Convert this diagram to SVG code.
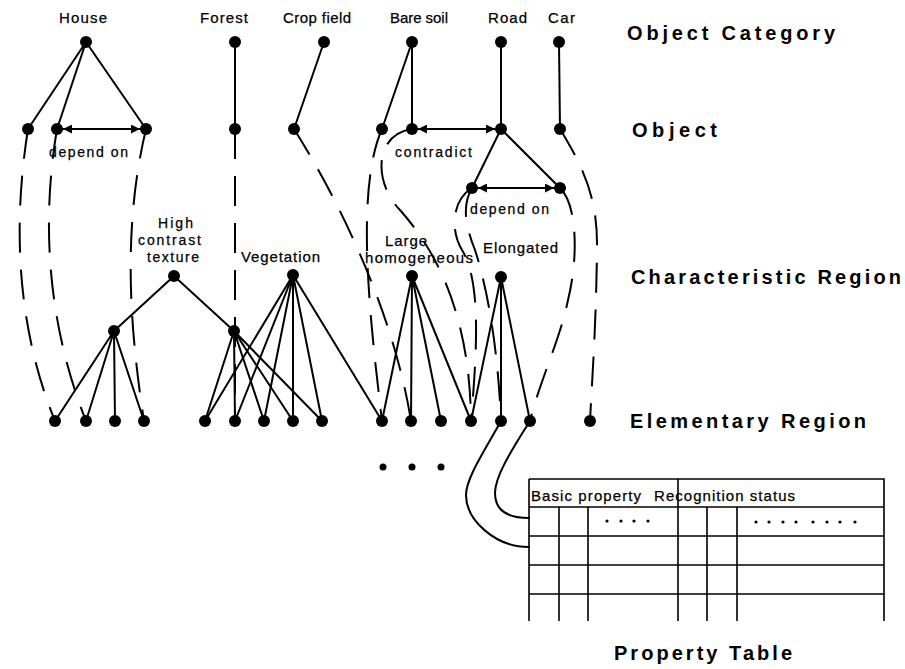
<svg xmlns="http://www.w3.org/2000/svg" width="905" height="669" viewBox="0 0 905 669">
  <style>
    .edge { stroke: #000; stroke-width: 2; fill: none; stroke-linecap: round; }
    .dash { stroke: #000; stroke-width: 2; fill: none; stroke-dasharray: 30 17; }
    .grid { stroke: #000; stroke-width: 1.6; fill: none; }
    .dot { fill: #000; }
    .lbl { font-family: "Liberation Sans", Arial, sans-serif; font-size: 15px; fill: #000; stroke: #000; stroke-width: 0.25; }
    .small { font-family: "Liberation Sans", Arial, sans-serif; font-size: 14px; fill: #000; stroke: #000; stroke-width: 0.25; }
    .level { font-family: "Liberation Sans", Arial, sans-serif; font-size: 20px; font-weight: bold; fill: #000; }
  </style>
  <defs>
    <marker id="arrow" viewBox="0 0 10 10" refX="10" refY="5" markerWidth="9" markerHeight="9" markerUnits="userSpaceOnUse" orient="auto-start-reverse">
      <path d="M0,0 L10,5 L0,10 z" fill="#000"/>
    </marker>
  </defs>
  <rect width="905" height="669" fill="#fff"/>

  <!-- connectors -->
  <g id="connectors">
    <!-- category to object -->
    <path class="edge" d="M86,42 L28,129 M86,42 L57,129 M86,42 L146,129"/>
    <path class="edge" d="M235,42 L235,129"/>
    <path class="edge" d="M324,42 L294,129"/>
    <path class="edge" d="M412,42 L382,129 M412,42 L412,129"/>
    <path class="edge" d="M501,42 L501,129"/>
    <path class="edge" d="M559,42 L560,129"/>
    <!-- object to sub-object -->
    <path class="edge" d="M501,129 L472,188 M501,129 L560,188"/>
    <!-- relations between objects -->
    <line class="edge" x1="63" y1="129" x2="140" y2="129" marker-start="url(#arrow)" marker-end="url(#arrow)"/>
    <line class="edge" x1="418" y1="129" x2="495" y2="129" marker-start="url(#arrow)" marker-end="url(#arrow)"/>
    <line class="edge" x1="478" y1="188" x2="554" y2="188" marker-start="url(#arrow)" marker-end="url(#arrow)"/>
    <!-- characteristic region to elementary region -->
    <path class="edge" d="M174,276 L114,331 M174,276 L234,331"/>
    <path class="edge" d="M114,331 L55,421 M114,331 L86,421 M114,331 L115,421 M114,331 L144,421"/>
    <path class="edge" d="M234,331 L205,421 M234,331 L235,421 M234,331 L264,421 M234,331 L293,421 M234,331 L322,421"/>
    <path class="edge" d="M293,275 L205,421 M293,275 L235,421 M293,275 L264,421 M293,275 L293,421 M293,275 L322,421 M293,275 L382,421"/>
    <path class="edge" d="M412,276 L382,421 M412,276 L411,421 M412,276 L441,421 M412,276 L471,421"/>
    <path class="edge" d="M501,277 L471,421 M501,277 L501,421 M501,277 L530,421"/>
    <!-- object to elementary region -->
    <path class="dash" d="M28,129 C12,230 18,330 55,421"/>
    <path class="dash" d="M57,129 C40,230 50,330 86,421"/>
    <path class="dash" d="M146,129 C122,230 130,330 144,421"/>
    <path class="dash" d="M235,129 L235,421"/>
    <path class="dash" d="M294,129 C345,210 395,320 411,421"/>
    <path class="dash" d="M382,129 C355,190 370,320 382,421"/>
    <path class="dash" d="M412,129 C372,135 375,185 400,210 C440,255 470,320 471,421"/>
    <path class="dash" d="M472,188 C452,200 450,230 462,250 C480,280 478,340 471,421"/>
    <path class="dash" d="M472,188 C462,205 465,225 475,250 C488,290 498,350 501,421"/>
    <path class="dash" d="M560,188 C578,205 578,260 568,300 C560,340 540,380 530,421"/>
    <path class="dash" d="M560,129 C585,170 598,200 597,250 C596,330 592,380 590,421"/>
    <!-- elementary region to property table -->
    <path class="edge" d="M501,421 C485,450 466,478 466,495 C466,520 495,547 529,547"/>
    <path class="edge" d="M530,421 C515,445 495,475 495,493 C495,512 510,518 529,518"/>
  </g>

  <!-- object categories -->
  <g id="cat-house"><circle class="dot" cx="86" cy="42" r="6"/><text class="lbl" x="59" y="23" textLength="48" lengthAdjust="spacing">House</text></g>
  <g id="cat-forest"><circle class="dot" cx="235" cy="42" r="6"/><text class="lbl" x="200" y="23" textLength="48" lengthAdjust="spacing">Forest</text></g>
  <g id="cat-crop"><circle class="dot" cx="324" cy="42" r="6"/><text class="lbl" x="283" y="23" textLength="68" lengthAdjust="spacing">Crop field</text></g>
  <g id="cat-baresoil"><circle class="dot" cx="412" cy="42" r="6"/><text class="lbl" x="390" y="23" textLength="58" lengthAdjust="spacing">Bare soil</text></g>
  <g id="cat-road"><circle class="dot" cx="501" cy="42" r="6"/><text class="lbl" x="488" y="23" textLength="39" lengthAdjust="spacing">Road</text></g>
  <g id="cat-car"><circle class="dot" cx="559" cy="42" r="6"/><text class="lbl" x="548" y="23" textLength="27" lengthAdjust="spacing">Car</text></g>

  <!-- objects -->
  <g id="obj-house-1"><circle class="dot" cx="28" cy="129" r="6"/></g>
  <g id="obj-house-2"><circle class="dot" cx="57" cy="129" r="6"/><text class="small" x="49" y="157" textLength="79" lengthAdjust="spacing">depend on</text></g>
  <g id="obj-house-3"><circle class="dot" cx="146" cy="129" r="6"/></g>
  <g id="obj-forest"><circle class="dot" cx="235" cy="129" r="6"/></g>
  <g id="obj-crop"><circle class="dot" cx="294" cy="129" r="6"/></g>
  <g id="obj-baresoil-1"><circle class="dot" cx="382" cy="129" r="6"/></g>
  <g id="obj-baresoil-2"><circle class="dot" cx="412" cy="129" r="6"/><text class="small" x="395" y="157" textLength="77" lengthAdjust="spacing">contradict</text></g>
  <g id="obj-road"><circle class="dot" cx="501" cy="129" r="6"/></g>
  <g id="obj-car"><circle class="dot" cx="560" cy="129" r="6"/></g>
  <g id="obj-road-a"><circle class="dot" cx="472" cy="188" r="6"/><text class="small" x="470" y="214" textLength="79" lengthAdjust="spacing">depend on</text></g>
  <g id="obj-road-b"><circle class="dot" cx="560" cy="188" r="6"/></g>

  <!-- characteristic regions -->
  <g id="cr-texture"><circle class="dot" cx="174" cy="276" r="6"/>
    <text class="small" x="158" y="228" textLength="35" lengthAdjust="spacing">High</text>
    <text class="small" x="138" y="245" textLength="63" lengthAdjust="spacing">contrast</text>
    <text class="small" x="147" y="262" textLength="52" lengthAdjust="spacing">texture</text>
  </g>
  <g id="cr-vegetation"><circle class="dot" cx="293" cy="275" r="6"/><text class="lbl" x="241" y="262" textLength="79" lengthAdjust="spacing">Vegetation</text></g>
  <g id="cr-homogeneous"><circle class="dot" cx="412" cy="276" r="6"/>
    <text class="lbl" x="385" y="246" textLength="42" lengthAdjust="spacing">Large</text>
    <text class="lbl" x="365" y="263" textLength="108" lengthAdjust="spacing">homogeneous</text>
  </g>
  <g id="cr-elongated"><circle class="dot" cx="501" cy="277" r="6"/><text class="lbl" x="483" y="253" textLength="75" lengthAdjust="spacing">Elongated</text></g>
  <g id="cr-texture-a"><circle class="dot" cx="114" cy="331" r="6"/></g>
  <g id="cr-texture-b"><circle class="dot" cx="234" cy="331" r="6"/></g>

  <!-- elementary regions -->
  <g id="er-1"><circle class="dot" cx="55" cy="421" r="6"/></g>
  <g id="er-2"><circle class="dot" cx="86" cy="421" r="6"/></g>
  <g id="er-3"><circle class="dot" cx="115" cy="421" r="6"/></g>
  <g id="er-4"><circle class="dot" cx="144" cy="421" r="6"/></g>
  <g id="er-5"><circle class="dot" cx="205" cy="421" r="6"/></g>
  <g id="er-6"><circle class="dot" cx="235" cy="421" r="6"/></g>
  <g id="er-7"><circle class="dot" cx="264" cy="421" r="6"/></g>
  <g id="er-8"><circle class="dot" cx="293" cy="421" r="6"/></g>
  <g id="er-9"><circle class="dot" cx="322" cy="421" r="6"/></g>
  <g id="er-10"><circle class="dot" cx="382" cy="421" r="6"/></g>
  <g id="er-11"><circle class="dot" cx="411" cy="421" r="6"/></g>
  <g id="er-12"><circle class="dot" cx="441" cy="421" r="6"/></g>
  <g id="er-13"><circle class="dot" cx="471" cy="421" r="6"/></g>
  <g id="er-14"><circle class="dot" cx="501" cy="421" r="6"/></g>
  <g id="er-15"><circle class="dot" cx="530" cy="421" r="6"/></g>
  <g id="er-16"><circle class="dot" cx="590" cy="421" r="6"/></g>
  <g id="er-more">
    <circle class="dot" cx="383" cy="467" r="3.5"/>
    <circle class="dot" cx="412" cy="467" r="3.5"/>
    <circle class="dot" cx="441" cy="467" r="3.5"/>
  </g>

  <!-- property table -->
  <g id="property-table">
    <path class="grid" d="M529,479 H884 V621 M529,479 V621 M678,479 V621"/>
    <path class="grid" d="M529,507 H884 M529,536 H884 M529,565 H884 M529,594 H884"/>
    <path class="grid" d="M559,507 V621 M588,507 V621 M707,507 V621 M737,507 V621"/>
    <text class="lbl" x="531" y="501" textLength="110" lengthAdjust="spacing">Basic property</text>
    <text class="lbl" x="654" y="501" textLength="141" lengthAdjust="spacing">Recognition status</text>
    <g class="dot">
      <circle cx="607" cy="521" r="1.6"/><circle cx="621" cy="521" r="1.6"/><circle cx="634" cy="521" r="1.6"/><circle cx="648" cy="521" r="1.6"/>
      <circle cx="756" cy="522" r="1.6"/><circle cx="769" cy="522" r="1.6"/><circle cx="783" cy="522" r="1.6"/><circle cx="796" cy="522" r="1.6"/>
      <circle cx="813" cy="522" r="1.6"/><circle cx="827" cy="522" r="1.6"/><circle cx="840" cy="522" r="1.6"/><circle cx="855" cy="522" r="1.6"/>
    </g>
  </g>

  <!-- level captions -->
  <g id="levels">
    <text class="level" x="627" y="40" textLength="208" lengthAdjust="spacing">Object Category</text>
    <text class="level" x="632" y="137" textLength="85" lengthAdjust="spacing">Object</text>
    <text class="level" x="631" y="284" textLength="270" lengthAdjust="spacing">Characteristic Region</text>
    <text class="level" x="630" y="428" textLength="236" lengthAdjust="spacing">Elementary Region</text>
    <text class="level" x="614" y="660" textLength="178" lengthAdjust="spacing">Property Table</text>
  </g>
</svg>
